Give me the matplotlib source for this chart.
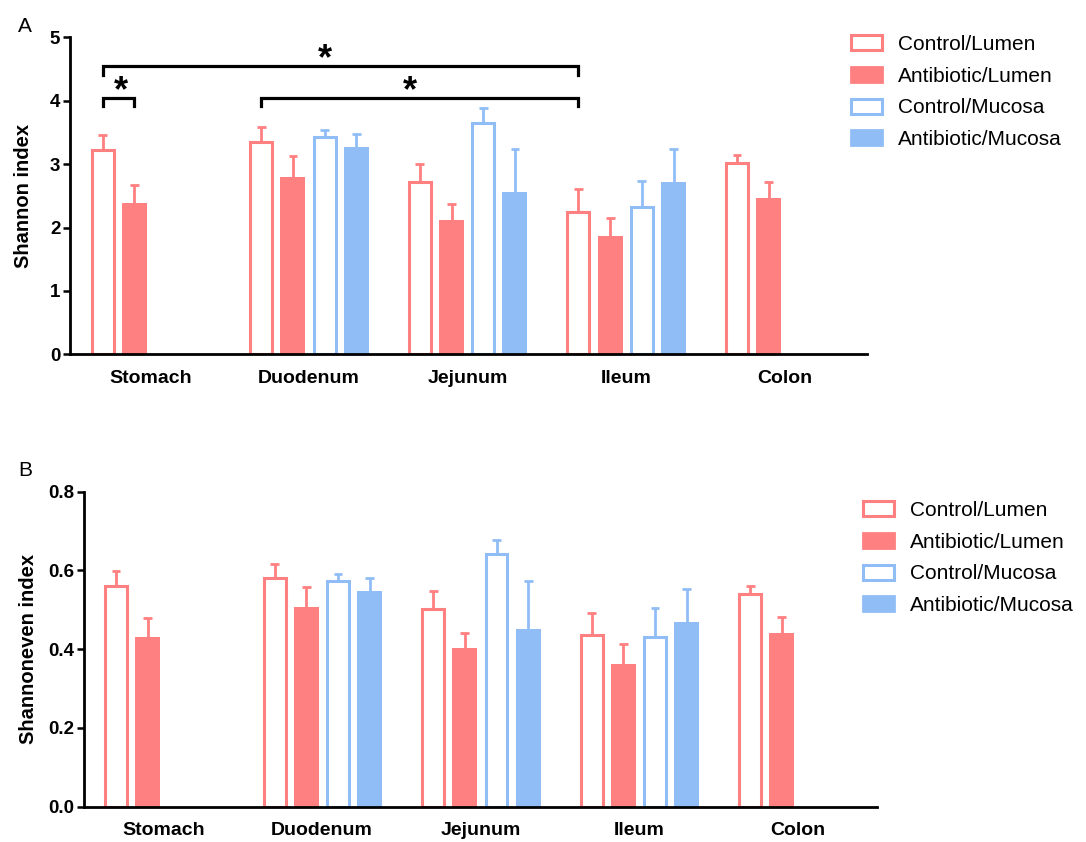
import numpy as np
import matplotlib
matplotlib.use("Agg")
import matplotlib.pyplot as plt
from matplotlib.patches import Patch

plt.rcParams["font.family"] = ["Liberation Sans", "DejaVu Sans"]

groups = ["Stomach", "Duodenum", "Jejunum", "Ileum", "Colon"]
series = ["Control/Lumen", "Antibiotic/Lumen", "Control/Mucosa", "Antibiotic/Mucosa"]

# Shannon index: mean and upper error-bar end (nan = no bar)
shannon_mean = {
    "Control/Lumen":     [3.23, 3.35, 2.71, 2.24, 3.01],
    "Antibiotic/Lumen":  [2.39, 2.79, 2.12, 1.86, 2.47],
    "Control/Mucosa":    [np.nan, 3.43, 3.65, 2.33, np.nan],
    "Antibiotic/Mucosa": [np.nan, 3.27, 2.56, 2.72, np.nan],
}
shannon_top = {
    "Control/Lumen":     [3.46, 3.58, 3.00, 2.60, 3.15],
    "Antibiotic/Lumen":  [2.67, 3.13, 2.37, 2.15, 2.71],
    "Control/Mucosa":    [np.nan, 3.53, 3.89, 2.73, np.nan],
    "Antibiotic/Mucosa": [np.nan, 3.48, 3.24, 3.24, np.nan],
}

# Shannoneven index
even_mean = {
    "Control/Lumen":     [0.561, 0.581, 0.501, 0.435, 0.540],
    "Antibiotic/Lumen":  [0.432, 0.506, 0.403, 0.362, 0.442],
    "Control/Mucosa":    [np.nan, 0.574, 0.642, 0.430, np.nan],
    "Antibiotic/Mucosa": [np.nan, 0.549, 0.452, 0.468, np.nan],
}
even_top = {
    "Control/Lumen":     [0.599, 0.617, 0.547, 0.493, 0.560],
    "Antibiotic/Lumen":  [0.479, 0.558, 0.441, 0.412, 0.482],
    "Control/Mucosa":    [np.nan, 0.592, 0.678, 0.505, np.nan],
    "Antibiotic/Mucosa": [np.nan, 0.582, 0.572, 0.554, np.nan],
}

# significance brackets on panel A: (group, series) -> (group, series), level
sig_pairs = [
    ((0, 0), (0, 1), 4.05),
    ((1, 0), (3, 0), 4.05),
    ((0, 0), (3, 0), 4.55),
]
sig_star_x = [0.57, 9.7, 7.0]

RED = "#FF8080"
BLUE = "#90BDF5"
styles = {
    "Control/Lumen": (RED, False),
    "Antibiotic/Lumen": (RED, True),
    "Control/Mucosa": (BLUE, False),
    "Antibiotic/Mucosa": (BLUE, True),
}


def xpos(g, s):
    return 5 * g + s


def draw_panel(ax, means, tops, ylim, yticks, yfmt, ylabel, xlim):
    for s, name in enumerate(series):
        color, filled = styles[name]
        m = np.array(means[name], dtype=float)
        t = np.array(tops[name], dtype=float)
        ok = ~np.isnan(m)
        x = np.array([xpos(g, s) for g in range(len(groups))], dtype=float)[ok]
        # upper error bar only: stem + cap
        ax.vlines(x, m[ok], t[ok], color=color, lw=2.0, zorder=1)
        ax.hlines(t[ok], x - 0.14, x + 0.14, color=color, lw=2.0, zorder=1)
        if filled:
            ax.bar(x, m[ok], width=0.79, color=color, linewidth=0, zorder=2)
        else:
            ax.bar(x, m[ok], width=0.69, facecolor="white", edgecolor=color,
                   linewidth=2.2, zorder=2)
    ax.set_xlim(*xlim)
    ax.set_ylim(*ylim)
    ax.set_yticks(yticks)
    ax.set_yticklabels([yfmt.format(v) for v in yticks], fontsize=13.5, fontweight="bold")
    ax.set_xticks([xpos(g, 1.5) for g in range(len(groups))])
    ax.set_xticklabels(groups, fontsize=14, fontweight="bold")
    ax.tick_params(axis="x", length=0, pad=11)
    ax.tick_params(axis="y", length=5, width=1.8, pad=2)
    for side in ("top", "right"):
        ax.spines[side].set_visible(False)
    for side in ("left", "bottom"):
        ax.spines[side].set_linewidth(2.0)
    ax.set_ylabel(ylabel, fontsize=14.5, fontweight="bold")


fig = plt.figure(figsize=(10.86, 8.42), dpi=100)
W, H = 1086, 842
axA = fig.add_axes([70 / W, 1 - 354.3 / H, 797 / W, 317 / H])
axB = fig.add_axes([84 / W, 1 - 806.7 / H, 793 / W, 315 / H])

draw_panel(axA, shannon_mean, shannon_top, (0, 5), [0, 1, 2, 3, 4, 5], "{:.0f}",
           "Shannon index", (-1.03, 24.1))
draw_panel(axB, even_mean, even_top, (0, 0.8), [0, 0.2, 0.4, 0.6, 0.8], "{:.1f}",
           "Shannoneven index", (-1.01, 24.0))
axA.yaxis.set_label_coords(-0.046, 0.5)
axB.yaxis.set_label_coords(-0.058, 0.5)

for ((g1, s1), (g2, s2), lvl), sx in zip(sig_pairs, sig_star_x):
    x1, x2 = xpos(g1, s1), xpos(g2, s2)
    axA.plot([x1, x1, x2, x2], [lvl - 0.14, lvl, lvl, lvl - 0.14], color="black",
             lw=2.3, clip_on=False, solid_joinstyle="miter")
    axA.text(sx, lvl - 0.06, "*", ha="center", va="baseline", fontsize=26,
             fontweight="bold", clip_on=False)

handles = []
for name in series:
    color, filled = styles[name]
    if filled:
        handles.append(Patch(facecolor=color, edgecolor=color, linewidth=2.0, label=name))
    else:
        handles.append(Patch(facecolor="white", edgecolor=color, linewidth=2.2, label=name))

for ax, (lx, ly) in ((axA, (851, 35)), (axB, (863, 501))):
    ax.legend(handles=handles, loc="upper left", bbox_to_anchor=(lx / W, 1 - ly / H),
              bbox_transform=fig.transFigure, frameon=False, fontsize=15,
              borderpad=0, borderaxespad=0, handlelength=1.5, handleheight=0.72,
              handletextpad=0.75, labelspacing=0.61)

fig.text(25 / W, 1 - 26 / H, "A", fontsize=15, ha="center", va="center")
fig.text(25 / W, 1 - 471 / H, "B", fontsize=15, ha="center", va="center")

fig.savefig("out.png", dpi=100)
